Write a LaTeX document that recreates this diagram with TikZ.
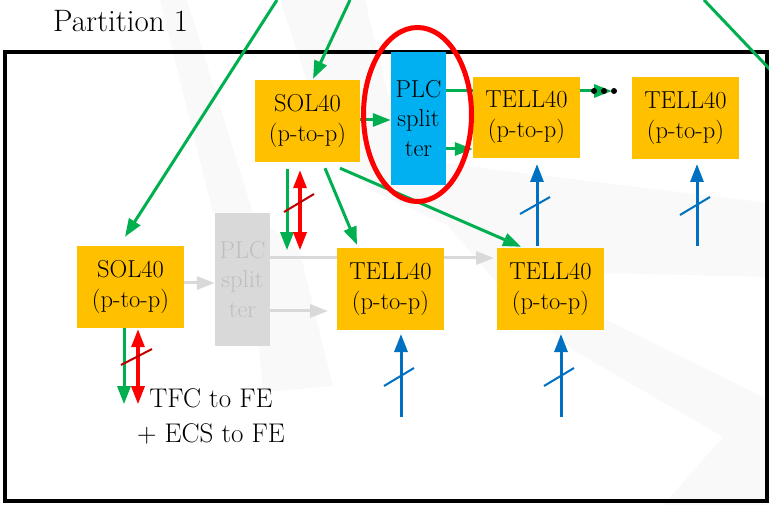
\documentclass[tikz,border=0pt]{standalone}
\usepackage{fontspec}
\usetikzlibrary{arrows.meta,calc}
\definecolor{cGreen}{HTML}{00B050}
\definecolor{cRed}{HTML}{FF0000}
\definecolor{cDRed}{HTML}{C00000}
\definecolor{cBlue}{HTML}{0070C0}
\definecolor{cOrange}{HTML}{FFC000}
\definecolor{cCyan}{HTML}{00B0F0}
\definecolor{cGrayBox}{HTML}{D9D9D9}
\definecolor{cGrayTxt}{HTML}{BFBFBF}
\definecolor{cWater}{HTML}{F9F9F9}
\begin{document}
\begin{tikzpicture}[x=1pt,y=-1pt,
  boxtxt/.style={inner sep=0pt, align=center, font=\fontsize{24.5}{30}\selectfont},
  obox/.style={boxtxt, fill=cOrange, minimum width=107pt, minimum height=82pt},
  splitbox/.style={boxtxt, minimum width=55pt, minimum height=133pt, font=\fontsize{24.5}{29.5}\selectfont},
  arrtip/.tip={Triangle[length=18pt,width=13pt]},
  garrow/.style={draw=cGreen, line width=3pt, -arrtip},
  gline/.style={draw=cGreen, line width=3pt},
  greyarrow/.style={draw=cGrayBox, line width=3pt, -arrtip},
  barrow/.style={draw=cBlue, line width=3pt, -arrtip},
  rarrow/.style={draw=cRed, line width=3.2pt, arrtip-arrtip},
  bslash/.style={draw=cBlue, line width=2pt},
  rslash/.style={draw=cDRed, line width=2pt},
  water/.style={fill=cWater, draw=none},
]
\useasboundingbox (0,0) rectangle (769,505);
% faint background watermark
\fill[water] (160,0) -- (187,0) -- (253,213) -- (300,252) -- (333,386) -- (263,392) -- (250,252) -- (213,213) -- cycle;
\fill[water] (280,0) -- (365,0) -- (392,110) -- (430,160) -- (473,167) -- (769,203) -- (769,277) -- (600,273) -- (520,268) -- (603,318) -- (769,400) -- (769,505) -- (663,505) -- (723,437) -- (573,350) -- (497,283) -- (447,225) -- (370,190) -- (330,150) -- cycle;

% frame and title
\draw[line width=4pt] (5,52) rectangle (767,501);
\node[anchor=base west, inner sep=0pt, font=\fontsize{31}{38}\selectfont] (part) at (53,32) {Partition 1};

% boxes
\node[obox, minimum width=105pt] (sol1) at (307.5,121) {SOL40\\(p-to-p)};
\node[splitbox, fill=cCyan] (plc) at (418.5,118.5) {PLC\\split\\ter};
\node[obox, minimum height=81pt] (tellA) at (526.5,117.5) {TELL40\\(p-to-p)};
\node[obox] (tellB) at (685.5,118) {TELL40\\(p-to-p)};
\node[obox] (sol2) at (130.5,287) {SOL40\\(p-to-p)};
\node[splitbox, fill=cGrayBox, text=cGrayTxt] (plcg) at (242.5,279.5) {PLC\\split\\ter};

% grey connectors (behind lower boxes)
\draw[greyarrow] (sol2.east |- 0,283) -- (plcg.west |- 0,283);
\draw[greyarrow] (plcg.east |- 0,311) -- (328,311);
\coordinate (gtip) at (494,258);
\draw[greyarrow] (plcg.east |- 0,258) -- (gtip);

\node[obox] (tellC) at (390.5,289) {TELL40\\(p-to-p)};
\node[obox] (tellD) at (550.5,289) {TELL40\\(p-to-p)};

% green connectors from above
\coordinate (top1) at (277,0);
\coordinate (top2) at (350,0);
\coordinate (top3) at (704,0);
\coordinate (out3) at (780,80);
\draw[garrow] (top1) -- ($(sol2.north)+(-5.5,-9)$);
\draw[garrow] (top2) -- ($(sol1.north)+(5.5,-1)$);
\draw[gline] (top3) -- (out3);

% SOL40 -> PLC -> TELL40
\draw[garrow] (sol1.east |- 0,120) -- (plc.west |- 0,120);
\draw[gline] (plc.east |- 0,91) -- (tellA.west |- 0,91);
\draw[garrow] (plc.east |- 0,149) -- (tellA.west |- 0,149);
\coordinate (dotsTip) at (612,91);
\draw[garrow] (tellA.east |- 0,91) -- (dotsTip);
\foreach \dx in {594,604,614} \fill[black] (\dx,91) circle (3pt);

% SOL40 (top) -> TELL40 below
\draw[garrow] ($(sol1.south)+(17.5,6)$) -- ($(tellC.north)+(-33.5,-3)$);
\draw[garrow] ($(sol1.south)+(32.5,6)$) -- ($(tellD.north)+(-29.5,-1)$);

% SOL40 (top) down links
\draw[garrow] ($(sol1.south)+(-20.5,7)$) -- ++(0,81);
\draw[rarrow] ($(sol1.south)+(-7.5,8)$) -- ++(0,80);
\draw[rslash] (284,212) -- (314,194);

% SOL40 (left) down links
\draw[garrow] ($(sol2.south)+(-6.5,0)$) -- ++(0,76);
\draw[rarrow] ($(sol2.south)+(7.5,1)$) -- ++(0,75);
\draw[rslash] (121,365) -- (152,349);
\node[inner sep=0pt, align=center, font=\fontsize{27}{35}\selectfont] (tfc) at (211,416) {TFC to FE\\+ ECS to FE};

% blue inputs
\coordinate (bA) at (537,246);
\coordinate (bB) at (697,246);
\coordinate (bC) at (401,417);
\coordinate (bD) at (561,417);
\draw[barrow] (bA) -- (bA |- 0,164);
\draw[bslash] (520,214) -- (550,197);
\draw[barrow] (bB) -- (bB |- 0,164);
\draw[bslash] (680,215) -- (710,197);
\draw[barrow] (bC) -- (bC |- 0,334);
\draw[bslash] (384,386) -- (414,368);
\draw[barrow] (bD) -- (bD |- 0,334);
\draw[bslash] (544,386) -- (574,368);

% highlight ellipse
\draw[cRed, line width=5pt] (417.5,114.5) ellipse [x radius=54pt, y radius=87pt];
\end{tikzpicture}
\end{document}
